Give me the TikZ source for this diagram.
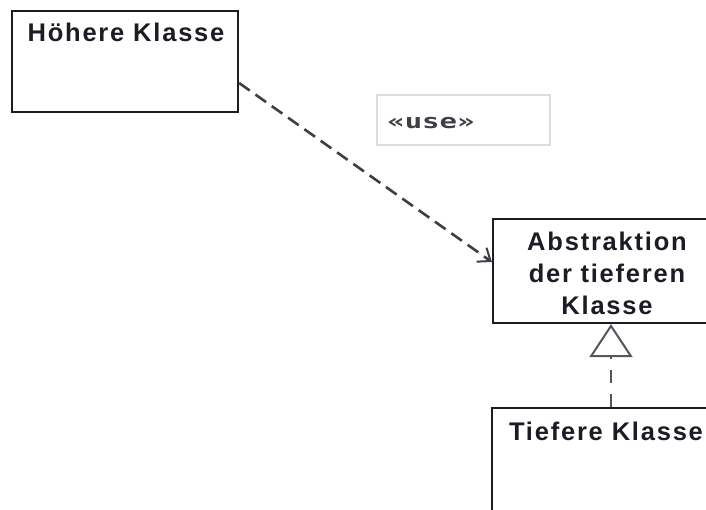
\documentclass[tikz,border=0pt]{standalone}
\usepackage{fontspec}
\usetikzlibrary{arrows.meta}
\newfontfamily\umlfont[LetterSpace=7]{Liberation Sans}
\newfontfamily\stereofont{DejaVu Sans Mono}
\definecolor{ink}{HTML}{1C1C24}
\definecolor{framegray}{HTML}{DDDDDD}
\tikzset{
  classbox/.style={draw=ink, line width=2.2pt, fill=white, inner sep=0pt},
  classtitle/.style={font=\umlfont\bfseries\fontsize{25.5}{32}\selectfont, text=ink, align=center, inner sep=0pt},
  stereobox/.style={draw=framegray, line width=1.2pt, inner sep=0pt},
  stereotext/.style={font=\stereofont\bfseries\fontsize{20}{22}\selectfont, text=ink!85, xscale=1.45, inner sep=0pt, anchor=base west},
  usearrow/.style={draw=ink!85, line width=2.6pt, dash pattern=on 13pt off 7pt, -{Straight Barb[length=11pt,width=17pt,line width=2pt]}},
  realize/.style={draw=ink!75, line width=2.4pt, dash pattern=on 13pt off 11pt, -{Triangle[open, length=33pt, width=43pt, line width=2pt, fill=white]}},
}
\begin{document}
\begin{tikzpicture}[x=1pt,y=-1pt]
  \useasboundingbox (0,0) rectangle (706,510);
  % classes
  \node[classbox, minimum width=226pt, minimum height=101pt] (hoeher) at (125,61.5) {};
  \node[classtitle, anchor=base] (hoehertxt) at (126,42) {Höhere Klasse};

  \node[classbox, minimum width=228pt, minimum height=104pt] (abstr) at (607,271) {};
  \node[classtitle, anchor=base, text width=220pt] (abstrtxt) at (607,251) {Abstraktion\\der tieferen\\Klasse};

  \node[classbox, minimum width=228pt, minimum height=140pt] (tiefer) at (606,478) {};
  \node[classtitle, anchor=base] (tiefertxt) at (606,440) {Tiefere Klasse};

  % stereotype label
  \node[stereobox, minimum width=173pt, minimum height=50pt] (usebox) at (463.5,120) {};
  \node[stereotext] (usetxt) at (387,129) {«use»};

  % connectors
  \coordinate (usestart) at (hoeher.east |- 0,83);
  \coordinate (useend) at (abstr.west |- 0,262);
  \draw[usearrow] (usestart) -- (useend);
  \draw[realize] (tiefer.north -| 611,0) -- (abstr.south -| 611,0);
\end{tikzpicture}
\end{document}
